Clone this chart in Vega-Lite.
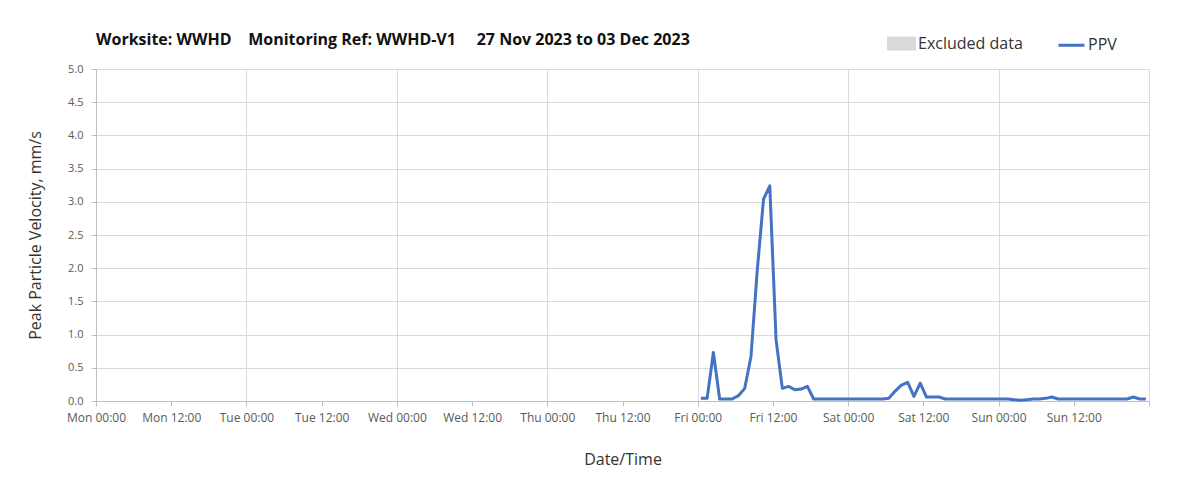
{
  "$schema": "https://vega.github.io/schema/vega-lite/v6.json",
  "width": 1053,
  "height": 332,
  "autosize": {"type": "none"},
  "padding": {"left": 96, "top": 69, "right": 54, "bottom": 93},
  "background": "white",
  "title": {
    "text": "Worksite: WWHD\u00a0\u00a0\u00a0 Monitoring Ref: WWHD-V1\u00a0\u00a0\u00a0\u00a0 27 Nov 2023 to 03 Dec 2023",
    "anchor": "start",
    "frame": "group",
    "font": "Open Sans",
    "fontSize": 16,
    "fontWeight": "bold",
    "color": "#111111",
    "offset": -19
  },
  "data": {
    "values": [
      {"time": "2023-12-01T00:30:00", "ppv": 0.04},
      {"time": "2023-12-01T01:30:00", "ppv": 0.04},
      {"time": "2023-12-01T02:30:00", "ppv": 0.73},
      {"time": "2023-12-01T03:30:00", "ppv": 0.03},
      {"time": "2023-12-01T04:30:00", "ppv": 0.03},
      {"time": "2023-12-01T05:30:00", "ppv": 0.03},
      {"time": "2023-12-01T06:30:00", "ppv": 0.08},
      {"time": "2023-12-01T07:30:00", "ppv": 0.19},
      {"time": "2023-12-01T08:30:00", "ppv": 0.67},
      {"time": "2023-12-01T09:30:00", "ppv": 1.97},
      {"time": "2023-12-01T10:30:00", "ppv": 3.04},
      {"time": "2023-12-01T11:30:00", "ppv": 3.24},
      {"time": "2023-12-01T12:30:00", "ppv": 0.92},
      {"time": "2023-12-01T13:30:00", "ppv": 0.19},
      {"time": "2023-12-01T14:30:00", "ppv": 0.22},
      {"time": "2023-12-01T15:30:00", "ppv": 0.17},
      {"time": "2023-12-01T16:30:00", "ppv": 0.18},
      {"time": "2023-12-01T17:30:00", "ppv": 0.22},
      {"time": "2023-12-01T18:30:00", "ppv": 0.03},
      {"time": "2023-12-01T19:30:00", "ppv": 0.03},
      {"time": "2023-12-01T20:30:00", "ppv": 0.03},
      {"time": "2023-12-01T21:30:00", "ppv": 0.03},
      {"time": "2023-12-01T22:30:00", "ppv": 0.03},
      {"time": "2023-12-01T23:30:00", "ppv": 0.03},
      {"time": "2023-12-02T00:30:00", "ppv": 0.03},
      {"time": "2023-12-02T01:30:00", "ppv": 0.03},
      {"time": "2023-12-02T02:30:00", "ppv": 0.03},
      {"time": "2023-12-02T03:30:00", "ppv": 0.03},
      {"time": "2023-12-02T04:30:00", "ppv": 0.03},
      {"time": "2023-12-02T05:30:00", "ppv": 0.03},
      {"time": "2023-12-02T06:30:00", "ppv": 0.04},
      {"time": "2023-12-02T07:30:00", "ppv": 0.15},
      {"time": "2023-12-02T08:30:00", "ppv": 0.24},
      {"time": "2023-12-02T09:30:00", "ppv": 0.28},
      {"time": "2023-12-02T10:30:00", "ppv": 0.07},
      {"time": "2023-12-02T11:30:00", "ppv": 0.27},
      {"time": "2023-12-02T12:30:00", "ppv": 0.06},
      {"time": "2023-12-02T13:30:00", "ppv": 0.06},
      {"time": "2023-12-02T14:30:00", "ppv": 0.06},
      {"time": "2023-12-02T15:30:00", "ppv": 0.03},
      {"time": "2023-12-02T16:30:00", "ppv": 0.03},
      {"time": "2023-12-02T17:30:00", "ppv": 0.03},
      {"time": "2023-12-02T18:30:00", "ppv": 0.03},
      {"time": "2023-12-02T19:30:00", "ppv": 0.03},
      {"time": "2023-12-02T20:30:00", "ppv": 0.03},
      {"time": "2023-12-02T21:30:00", "ppv": 0.03},
      {"time": "2023-12-02T22:30:00", "ppv": 0.03},
      {"time": "2023-12-02T23:30:00", "ppv": 0.03},
      {"time": "2023-12-03T00:30:00", "ppv": 0.03},
      {"time": "2023-12-03T01:30:00", "ppv": 0.03},
      {"time": "2023-12-03T02:30:00", "ppv": 0.02},
      {"time": "2023-12-03T03:30:00", "ppv": 0.01},
      {"time": "2023-12-03T04:30:00", "ppv": 0.02},
      {"time": "2023-12-03T05:30:00", "ppv": 0.03},
      {"time": "2023-12-03T06:30:00", "ppv": 0.03},
      {"time": "2023-12-03T07:30:00", "ppv": 0.04},
      {"time": "2023-12-03T08:30:00", "ppv": 0.06},
      {"time": "2023-12-03T09:30:00", "ppv": 0.03},
      {"time": "2023-12-03T10:30:00", "ppv": 0.03},
      {"time": "2023-12-03T11:30:00", "ppv": 0.03},
      {"time": "2023-12-03T12:30:00", "ppv": 0.03},
      {"time": "2023-12-03T13:30:00", "ppv": 0.03},
      {"time": "2023-12-03T14:30:00", "ppv": 0.03},
      {"time": "2023-12-03T15:30:00", "ppv": 0.03},
      {"time": "2023-12-03T16:30:00", "ppv": 0.03},
      {"time": "2023-12-03T17:30:00", "ppv": 0.03},
      {"time": "2023-12-03T18:30:00", "ppv": 0.03},
      {"time": "2023-12-03T19:30:00", "ppv": 0.03},
      {"time": "2023-12-03T20:30:00", "ppv": 0.03},
      {"time": "2023-12-03T21:30:00", "ppv": 0.06},
      {"time": "2023-12-03T22:30:00", "ppv": 0.03},
      {"time": "2023-12-03T23:30:00", "ppv": 0.03}
    ]
  },
  "mark": {"type": "line", "strokeWidth": 3, "interpolate": "linear", "strokeJoin": "round"},
  "encoding": {
    "x": {
      "field": "time",
      "type": "temporal",
      "scale": {"domain": [{"year": 2023, "month": 11, "date": 27}, {"year": 2023, "month": 12, "date": 4}]},
      "axis": {
        "title": "Date/Time",
        "format": "%a %H:%M",
        "values": [
          {"year": 2023, "month": 11, "date": 27, "hours": 0},
          {"year": 2023, "month": 11, "date": 27, "hours": 12},
          {"year": 2023, "month": 11, "date": 28, "hours": 0},
          {"year": 2023, "month": 11, "date": 28, "hours": 12},
          {"year": 2023, "month": 11, "date": 29, "hours": 0},
          {"year": 2023, "month": 11, "date": 29, "hours": 12},
          {"year": 2023, "month": 11, "date": 30, "hours": 0},
          {"year": 2023, "month": 11, "date": 30, "hours": 12},
          {"year": 2023, "month": 12, "date": 1, "hours": 0},
          {"year": 2023, "month": 12, "date": 1, "hours": 12},
          {"year": 2023, "month": 12, "date": 2, "hours": 0},
          {"year": 2023, "month": 12, "date": 2, "hours": 12},
          {"year": 2023, "month": 12, "date": 3, "hours": 0},
          {"year": 2023, "month": 12, "date": 3, "hours": 12},
          {"year": 2023, "month": 12, "date": 4, "hours": 0}
        ],
        "labelExpr": "time(datum.value) >= time(datetime(2023, 11, 4)) ? '' : datum.label",
        "labelFlush": false,
        "labelOverlap": false,
        "labelFontSize": 12,
        "gridOpacity": {"condition": {"test": "hours(datum.value) == 0", "value": 1}, "value": 0},
        "tickSize": 5,
        "labelPadding": 6,
        "titlePadding": 28
      }
    },
    "y": {
      "field": "ppv",
      "type": "quantitative",
      "scale": {"domain": [0, 5], "nice": false},
      "axis": {
        "title": "Peak Particle Velocity, mm/s",
        "values": [0, 0.5, 1, 1.5, 2, 2.5, 3, 3.5, 4, 4.5, 5],
        "format": ".1f",
        "tickSize": 5,
        "labelPadding": 8,
        "titlePadding": 24
      }
    },
    "color": {
      "datum": "PPV",
      "scale": {"domain": ["Excluded data", "PPV"], "range": ["#d9d9d9", "#4472c4"]},
      "legend": {
        "title": null,
        "orient": "none",
        "legendX": 791,
        "legendY": -40,
        "direction": "horizontal",
        "labelFont": "Open Sans",
        "labelFontSize": 16,
        "labelColor": "#333333",
        "symbolSize": 676,
        "columnPadding": 29,
        "labelOffset": 2,
        "symbolStrokeWidth": 3,
        "encode": {
          "symbols": {
            "update": {
              "shape": {"signal": "datum.value === 'PPV' ? 'stroke' : 'M-1,-0.42H1V0.42H-1Z'"},
              "fill": {"signal": "datum.value === 'PPV' ? 'transparent' : '#d9d9d9'"},
              "stroke": {"signal": "datum.value === 'PPV' ? '#4472c4' : 'transparent'"},
              "strokeWidth": {"value": 3}
            }
          }
        }
      }
    }
  },
  "config": {
    "view": {"stroke": null},
    "axis": {
      "gridColor": "#d9d9d9",
      "domainColor": "#bfbfbf",
      "tickColor": "#bfbfbf",
      "labelFont": "Open Sans",
      "labelFontSize": 11,
      "labelColor": "#595959",
      "titleFont": "Open Sans",
      "titleFontSize": 16,
      "titleFontWeight": "normal",
      "titleColor": "#333333"
    }
  }
}
